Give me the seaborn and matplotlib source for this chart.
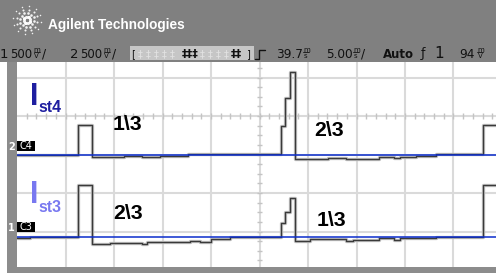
import numpy as np
import pandas as pd
import matplotlib
matplotlib.use('Agg')
import matplotlib.pyplot as plt
import seaborn as sns
from matplotlib import font_manager
from matplotlib.patches import Rectangle

W, H = 496, 273

# scope settings
MS_PER_DIV = 5.0
VOLTS_PER_DIV = 0.5
CH4_POS = 3.0     # ground marker of channel 4, in divisions from the bottom gridline
CH3_POS = 0.865   # ground marker of channel 3

# channel 4 (Ist4): step times in ms and levels in V relative to its ground
t4 = [0.0, 6.26, 7.73, 11.03, 12.89, 14.74, 17.63, 27.22, 27.63, 28.14, 28.66,
      32.06, 33.92, 34.64, 37.32, 38.87, 39.48, 41.13, 43.20, 48.04, 50.0]
v4 = [0.0, 0.383, -0.029, -0.013, -0.032, -0.013, 0.006, 0.37, 0.734, 1.065, -0.058,
      -0.045, -0.062, -0.055, -0.029, -0.045, -0.036, -0.019, 0.006, 0.383, 0.383]

# channel 3 (Ist3)
t3 = [0.0, 1.34, 6.26, 7.73, 9.59, 12.89, 13.40, 17.84, 18.87, 20.0, 21.96, 27.22,
      27.63, 28.14, 28.66, 30.21, 33.92, 34.64, 37.32, 38.87, 39.48, 43.20, 48.04, 50.0]
v3 = [-0.013, 0.0, 0.671, -0.099, -0.078, -0.091, -0.069, -0.053, -0.065, -0.034, -0.010, 0.174,
      0.325, 0.499, -0.052, -0.036, -0.056, -0.039, -0.023, -0.043, -0.017, 0.0, 0.671, 0.671]

labels_ch4 = ['1\\3', '2\\3']
labels_ch3 = ['2\\3', '1\\3']


def first_font(*names):
    for name in names:
        try:
            font_manager.findfont(name, fallback_to_default=False)
            return name
        except ValueError:
            continue
    return 'DejaVu Sans'


narrow = first_font('Liberation Sans Narrow', 'DejaVu Sans Condensed')
if narrow in ('Liberation Sans Narrow', 'DejaVu Sans Condensed'):
    squeeze = 1.0
else:
    narrow = first_font('Liberation Sans', 'DejaVu Sans')
    squeeze = 0.82

sns.set_style('white')
plt.rcParams['font.family'] = ['DejaVu Sans']

df = pd.concat([
    pd.DataFrame({'t_ms': t4, 'y': CH4_POS + np.array(v4) / VOLTS_PER_DIV, 'ch': 'Ist4'}),
    pd.DataFrame({'t_ms': t3, 'y': CH3_POS + np.array(v3) / VOLTS_PER_DIV, 'ch': 'Ist3'}),
], ignore_index=True)

fig = plt.figure(figsize=(W / 100, H / 100), dpi=100)
fig.patch.set_facecolor('white')

# screen area: 48.5 px per time division, 38.5 px per volt division
ax = fig.add_axes([17 / W, (H - 267) / H, 479 / W, 205 / H])
ax.set_facecolor('white')
for sp in ax.spines.values():
    sp.set_visible(False)
ax.set_xticks(np.arange(5, 50, 5))
ax.set_yticks([1, 2, 3, 4, 5])
ax.grid(True, color='#dadada', lw=1.5)
ax.tick_params(length=0, labelbottom=False, labelleft=False)

# minor marks on the centre axes
ax.vlines(np.arange(1, 50, 1.0), 4 - 0.08, 4 + 0.08, color='#c4c4c4', lw=1, zorder=1)
ax.hlines(np.arange(0.25, 5.5, 0.25), 25 - 0.3, 25 + 0.3, color='#c4c4c4', lw=1, zorder=1)

for lw, col, z in [(2.4, '#c6c6c6', 3), (1.0, '#3a3a3a', 4)]:
    sns.lineplot(data=df, x='t_ms', y='y', units='ch', estimator=None, sort=False,
                 color=col, lw=lw, drawstyle='steps-post', ax=ax, zorder=z, legend=False)

ax.axhline(CH4_POS, color='#0a2ccc', lw=1.1, zorder=5)
ax.axhline(CH3_POS, color='#0a2ccc', lw=1.1, zorder=5)
ax.set_xlim(0, 479 / 48.5 * MS_PER_DIV)
ax.set_ylim(3 / 38.5, 208 / 38.5)
ax.set_xlabel('')
ax.set_ylabel('')

# overlay in pixel coordinates for the scope frame and texts
ov = fig.add_axes([0, 0, 1, 1], zorder=10)
ov.set_xlim(0, W)
ov.set_ylim(H, 0)
ov.axis('off')
ov.patch.set_alpha(0)

ov.add_patch(Rectangle((0, 0), W, 62, color='#808080', lw=0))
ov.add_patch(Rectangle((7, 62), 10, 211, color='#8c8c8c', lw=0))
ov.add_patch(Rectangle((7, 267), W - 7, 6, color='#8c8c8c', lw=0))

# logo sparkle
cx, cy = 27, 20
for k in range(12):
    a = k * np.pi / 6 + 0.15
    for r, s in [(3.5, 5), (7, 3.5), (10.5, 2.2), (14, 1.2)]:
        ov.scatter(cx + r * np.cos(a), cy + r * np.sin(a), s=s, color='white', lw=0, alpha=0.9)

ov.text(48, 28.5, 'Agilent Technologies', color='white', fontweight='bold',
        size=12 * squeeze, family=narrow, va='baseline')

# status row
row = dict(color='#111111', va='baseline', family='DejaVu Sans')


def unit(x, top, bottom):
    ov.text(x, 51.5, top, size=5, **row)
    ov.plot([x, x + 6], [52.4, 52.4], color='#111111', lw=0.6)
    ov.text(x + 0.5, 58, bottom, size=5, **row)


ov.text(0, 58, '1', size=9.5, **row)
ov.text(10, 57.5, '500', size=8.5, **row)
unit(33.5, 'm', 'V')
ov.text(42, 57.5, '/', size=8.7, **row)
ov.text(70, 58, '2', size=9.5, **row)
ov.text(80, 57.5, '500', size=8.5, **row)
unit(103.5, 'm', 'V')
ov.text(112, 57.5, '/', size=8.7, **row)

ov.add_patch(Rectangle((130, 46), 124, 14, color='#c6c6c6', lw=0))
ov.text(131, 57, '[', size=7, **row)
ov.text(138, 57, '‡ ‡ ‡ ‡ ‡', size=7, color='#e2e2e2', va='baseline')
ov.text(182, 57, '‡‡‡', size=8, fontweight='bold', **row)
ov.text(200, 57, '‡ ‡ ‡ ‡', size=7, color='#e2e2e2', va='baseline')
ov.text(231, 57, '‡‡', size=8, fontweight='bold', **row)
ov.text(246, 57, ']', size=7, **row)

ov.plot([255, 259, 259, 265], [59, 59, 50, 50], color='#111111', lw=1)
ov.text(276, 57.5, '39.7', size=8.7, **row)
unit(303, 'm', 's')
ov.text(326, 57.5, '5.00', size=8.7, **row)
unit(353, 'm', 's')
ov.text(361, 57.5, '/', size=8.7, **row)
ov.text(383, 57.5, 'Auto', size=8.5, fontweight='bold', **row)
ov.text(421, 57.5, 'ƒ', size=9, **row)
ov.text(434, 58, '1', size=11, **row)
ov.text(459, 57.5, '94', size=8.7, **row)
unit(477, 'm', 'V')

# channel markers
for num, ytop, tag in [('2', 141, 'C4'), ('1', 222, 'C3')]:
    ov.text(8, ytop + 9, num, size=7, color='white', fontweight='bold', va='baseline')
    ov.add_patch(Rectangle((17, ytop), 18, 10, color='black', lw=0))
    ov.text(26, ytop + 5, tag, size=7, color='white', ha='center', va='center')

# channel names
ov.text(30, 105, 'I', size=22, fontweight='bold', color='#1e1ea0', family=narrow, va='baseline')
ov.text(38.5, 112.5, 'st4', size=14 * squeeze, fontweight='bold', color='#1e1ea0',
        family=narrow, va='baseline')
ov.text(30, 203, 'I', size=22, fontweight='bold', color='#7878f0', family=narrow, va='baseline')
ov.text(38.5, 211.5, 'st3', size=14 * squeeze, fontweight='bold', color='#7878f0',
        family=narrow, va='baseline')

# phase annotations
lab = dict(size=18.7 * squeeze, fontweight='bold', color='black', family=narrow, va='baseline')
ov.text(113, 130, labels_ch4[0], **lab)
ov.text(314, 136, labels_ch4[1], **lab)
ov.text(113, 219, labels_ch3[0], **lab)
ov.text(317, 226, labels_ch3[1], **lab)

fig.savefig('out.png', dpi=100, facecolor=fig.get_facecolor())
